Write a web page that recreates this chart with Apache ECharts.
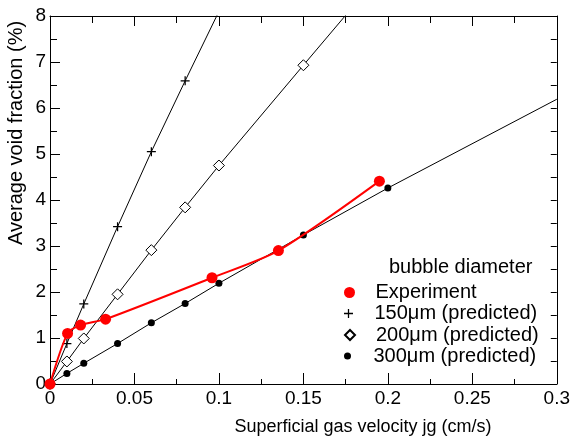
<!DOCTYPE html>
<html>
<head>
<meta charset="utf-8">
<script src="https://cdn.jsdelivr.net/npm/echarts@6/dist/echarts.min.js"></script>
<style>
html, body { margin: 0; padding: 0; background: #fff; }
#chart { width: 573px; height: 439px; }
</style>
</head>
<body>
<div id="chart"></div>
<script>
// superficial gas velocity jg (cm/s) and void fraction (%)
// last point of each predicted curve only extends the line (no marker)
const jg150 = [0, 0.01, 0.02, 0.04, 0.06, 0.08, 0.1];
const void150 = [0, 0.88, 1.74, 3.42, 5.05, 6.59, 8.1];
const jg200 = [0, 0.01, 0.02, 0.04, 0.06, 0.08, 0.1, 0.15, 0.2];
const void200 = [0, 0.49, 0.99, 1.95, 2.91, 3.84, 4.75, 6.93, 9.1];
const jg300 = [0, 0.01, 0.02, 0.04, 0.06, 0.08, 0.1, 0.15, 0.2, 0.3];
const void300 = [0, 0.23, 0.45, 0.88, 1.33, 1.75, 2.19, 3.24, 4.26, 6.19];
const jgExp = [0, 0.0104, 0.0181, 0.0329, 0.0959, 0.1352, 0.195];
const voidExp = [0, 1.1, 1.28, 1.41, 2.31, 2.9, 4.41];

const seriesNames = ['Experiment', '150\u03bcm (predicted)', '200\u03bcm (predicted)', '300\u03bcm (predicted)'];

const FONT = "'Liberation Sans', Arial, sans-serif";
const PLUS = 'path://M4.3,0H5.7V4.3H10V5.7H5.7V10H4.3V5.7H0V4.3H4.3Z';
const DIAMOND = 'path://M5,0L10,5L5,10L0,5Z';

function pairs(xs, ys, markLast) {
    var out = [];
    for (var i = 0; i < xs.length; i++) {
        if (!markLast && i === xs.length - 1) {
            out.push({ value: [xs[i], ys[i]], symbol: 'none' });
        } else {
            out.push([xs[i], ys[i]]);
        }
    }
    return out;
}

var myChart = echarts.init(document.getElementById('chart'));

var axisCommon = {
    type: 'value',
    splitLine: { show: false },
    axisLine: { show: true, onZero: false, lineStyle: { color: '#000', width: 1 } }
};

function legendRow(name, icon, top, size) {
    return {
        data: [{ name: name, icon: icon }],
        orient: 'vertical',
        left: 344,
        top: top,
        padding: 0,
        itemWidth: 42,
        itemHeight: size,
        selectedMode: false,
        textStyle: { fontFamily: FONT, fontSize: 20, color: '#000', lineHeight: 21 }
    };
}

var option = {
    animation: false,
    grid: { left: 50, right: 15, top: 16, bottom: 55 },
    xAxis: [
        Object.assign({}, axisCommon, {
            position: 'bottom',
            min: 0, max: 0.3, interval: 0.05,
            axisTick: { inside: true, length: 11, lineStyle: { color: '#000' } },
            minorTick: { show: true, splitNumber: 2, length: 5, lineStyle: { color: '#000' } },
            axisLabel: { margin: 5, fontFamily: FONT, fontSize: 19, color: '#000' }
        }),
        Object.assign({}, axisCommon, {
            position: 'top',
            min: 0, max: 0.3, interval: 0.05,
            axisTick: { inside: true, length: 10, lineStyle: { color: '#000' } },
            minorTick: { show: true, splitNumber: 2, length: 7, lineStyle: { color: '#000' } },
            axisLabel: { show: false }
        })
    ],
    yAxis: [
        Object.assign({}, axisCommon, {
            position: 'left',
            min: 0, max: 8, interval: 1,
            axisTick: { inside: true, length: 10, lineStyle: { color: '#000' } },
            minorTick: { show: true, splitNumber: 2, length: 7, lineStyle: { color: '#000' } },
            axisLabel: { margin: 4, fontFamily: FONT, fontSize: 19, color: '#000' }
        }),
        Object.assign({}, axisCommon, {
            position: 'right',
            min: 0, max: 8, interval: 1,
            axisTick: { inside: true, length: 6, lineStyle: { color: '#000' } },
            minorTick: { show: true, splitNumber: 2, length: 6, lineStyle: { color: '#000' } },
            axisLabel: { show: false }
        })
    ],
    legend: [
        legendRow(seriesNames[0], 'circle', 282, 11),
        legendRow(seriesNames[1], PLUS, 303, 9),
        legendRow(seriesNames[2], DIAMOND, 324.5, 10),
        legendRow(seriesNames[3], 'circle', 345.5, 7)
    ],
    graphic: [
        {
            type: 'text', left: 389, top: 257,
            style: { text: 'bubble diameter', fontFamily: FONT, fontSize: 20, fill: '#000' }
        },
        {
            type: 'text', x: 16, y: 133, rotation: Math.PI / 2,
            style: { text: 'Average void fraction (%)', fontFamily: FONT, fontSize: 20, fill: '#000',
                     align: 'center', verticalAlign: 'middle' }
        },
        {
            type: 'text', x: 363, y: 427,
            style: { text: 'Superficial gas velocity jg (cm/s)', fontFamily: FONT, fontSize: 18, fill: '#000',
                     align: 'center', verticalAlign: 'middle' }
        }
    ],
    series: [
        {
            name: seriesNames[1],
            type: 'line',
            data: pairs(jg150, void150, false),
            symbol: PLUS,
            symbolSize: 9,
            lineStyle: { color: '#000', width: 1 },
            itemStyle: { color: '#000' },
            z: 2
        },
        {
            name: seriesNames[2],
            type: 'line',
            data: pairs(jg200, void200, false),
            symbol: DIAMOND,
            symbolSize: [11, 11],
            lineStyle: { color: '#000', width: 1 },
            itemStyle: { color: '#fff', borderColor: '#000', borderWidth: 1 },
            z: 2
        },
        {
            name: seriesNames[3],
            type: 'line',
            data: pairs(jg300, void300, false),
            symbol: 'circle',
            symbolSize: 7,
            lineStyle: { color: '#000', width: 1 },
            itemStyle: { color: '#000' },
            z: 2
        },
        {
            name: seriesNames[0],
            type: 'line',
            data: pairs(jgExp, voidExp, true),
            smooth: 0.25,
            symbol: 'circle',
            symbolSize: 11,
            lineStyle: { color: '#ff0000', width: 2 },
            itemStyle: { color: '#ff0000' },
            z: 3
        }
    ]
};

myChart.setOption(option);
window.addEventListener('resize', function () { myChart.resize(); });
</script>
</body>
</html>
